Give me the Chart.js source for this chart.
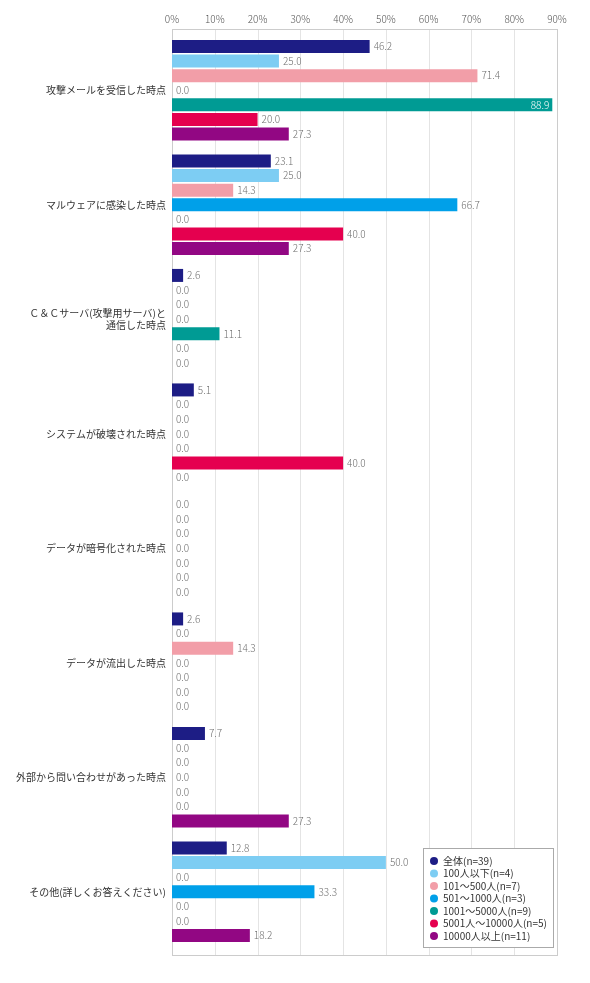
<!DOCTYPE html>
<html><head><meta charset="utf-8">
<script src="https://cdn.jsdelivr.net/npm/chart.js@4"></script>
<style>html,body{margin:0;padding:0;background:#fff}#wrap{width:590px;height:983px;position:relative}</style>
</head><body><div id="wrap"><canvas id="c"></canvas></div>
<script>
const categories = [
  '攻撃メールを受信した時点',
  'マルウェアに感染した時点',
  ['Ｃ＆Ｃサーバ(攻撃用サーバ)と','通信した時点'],
  'システムが破壊された時点',
  'データが暗号化された時点',
  'データが流出した時点',
  '外部から問い合わせがあった時点',
  'その他(詳しくお答えください)'
];
const seriesNames = ['全体(n=39)','100人以下(n=4)','101～500人(n=7)','501～1000人(n=3)','1001～5000人(n=9)','5001人～10000人(n=5)','10000人以上(n=11)'];
const seriesColors = ['#1d1d85','#7dcdf3','#f29ea8','#00a0e9','#009b94','#e5004f','#920783'];
const all      = [46.2, 23.1, 2.6, 5.1, 0.0, 2.6, 7.7, 12.8];
const s100     = [25.0, 25.0, 0.0, 0.0, 0.0, 0.0, 0.0, 50.0];
const s500     = [71.4, 14.3, 0.0, 0.0, 0.0, 14.3, 0.0, 0.0];
const s1000    = [0.0, 66.7, 0.0, 0.0, 0.0, 0.0, 0.0, 33.3];
const s5000    = [88.9, 0.0, 11.1, 0.0, 0.0, 0.0, 0.0, 0.0];
const s10000   = [20.0, 40.0, 0.0, 40.0, 0.0, 0.0, 0.0, 0.0];
const sOver    = [27.3, 27.3, 0.0, 0.0, 0.0, 0.0, 27.3, 18.2];
const seriesValues = [all, s100, s500, s1000, s5000, s10000, sOver];
const xTicks = [0,10,20,30,40,50,60,70,80,90];

const FONT = '"Noto Sans CJK JP", "Noto Sans", sans-serif';

const framePlugin = {
  id: 'frame',
  beforeDatasetsDraw(chart) {
    const {ctx, chartArea: a, scales: {x}} = chart;
    const top = a.top - 4, bottom = a.bottom + 6;
    ctx.save();
    ctx.strokeStyle = '#e4e4e4';
    ctx.lineWidth = 1;
    xTicks.forEach(v => {
      const px = Math.round(x.getPixelForValue(v)) + 0.5;
      ctx.beginPath(); ctx.moveTo(px, top); ctx.lineTo(px, bottom); ctx.stroke();
    });
    ctx.strokeStyle = '#cccccc';
    const l = Math.round(a.left) + 0.5, r = Math.round(a.right) + 0.5;
    ctx.strokeRect(l, Math.round(top) + 0.5, r - l, Math.round(bottom - top));
    ctx.restore();
  }
};

const labelPlugin = {
  id: 'vals',
  afterDatasetsDraw(chart) {
    const {ctx, chartArea: a} = chart;
    ctx.save();
    ctx.font = '300 10px ' + FONT;
    ctx.textBaseline = 'middle';
    chart.data.datasets.forEach((ds, di) => {
      chart.getDatasetMeta(di).data.forEach((bar, i) => {
        const t = ds.data[i].toFixed(1);
        const w = ctx.measureText(t).width;
        if (bar.x + 4 + w > a.right) {
          ctx.fillStyle = '#ffffff';
          ctx.textAlign = 'right';
          ctx.fillText(t, bar.x - 3, bar.y);
        } else {
          ctx.fillStyle = '#6e6e6e';
          ctx.textAlign = 'left';
          ctx.fillText(t, bar.x + 4, bar.y);
        }
      });
    });
    ctx.restore();
  }
};

const legendPlugin = {
  id: 'boxLegend',
  afterDraw(chart) {
    const {ctx} = chart;
    const bx = 423.5, by = 848.5, bw = 130, bh = 99;
    ctx.save();
    ctx.fillStyle = '#fff';
    ctx.fillRect(bx, by, bw, bh);
    ctx.strokeStyle = '#aaaaaa';
    ctx.lineWidth = 1;
    ctx.strokeRect(bx, by, bw, bh);
    ctx.font = '10px ' + FONT;
    ctx.textBaseline = 'middle';
    ctx.textAlign = 'left';
    chart.data.datasets.forEach((ds, i) => {
      const y = 861 + i * 12.5;
      ctx.fillStyle = ds.backgroundColor;
      ctx.beginPath(); ctx.arc(434, y, 4, 0, Math.PI * 2); ctx.fill();
      ctx.fillStyle = '#333';
      ctx.fillText(ds.label, 443, y);
    });
    ctx.restore();
  }
};

new Chart(document.getElementById('c'), {
  type: 'bar',
  data: {
    labels: categories,
    datasets: seriesNames.map((n, i) => ({
      label: n,
      data: seriesValues[i],
      backgroundColor: seriesColors[i],
      borderWidth: 0,
      categoryPercentage: 0.893,
      barPercentage: 0.89
    }))
  },
  options: {
    indexAxis: 'y',
    responsive: true,
    maintainAspectRatio: false,
    animation: false,
    layout: {padding: {left: 0, right: 33, top: 0, bottom: 34}},
    plugins: {legend: {display: false}, tooltip: {enabled: false}},
    scales: {
      x: {
        position: 'top',
        min: 0, max: 90,
        afterFit: s => { s.height = 33; },
        grid: {display: false, drawTicks: false, tickLength: 0},
        border: {display: false},
        ticks: {
          stepSize: 10,
          padding: 8,
          color: '#555',
          font: {family: FONT, size: 10, weight: '300'},
          callback: v => v + '%'
        }
      },
      y: {
        afterFit: s => { s.width = 172; },
        grid: {display: false, drawTicks: false, tickLength: 0},
        border: {display: false},
        ticks: {
          padding: 6,
          color: '#333',
          font: {family: FONT, size: 10, lineHeight: 1.2},
          autoSkip: false
        }
      }
    }
  },
  plugins: [framePlugin, labelPlugin, legendPlugin]
});
</script></body></html>
